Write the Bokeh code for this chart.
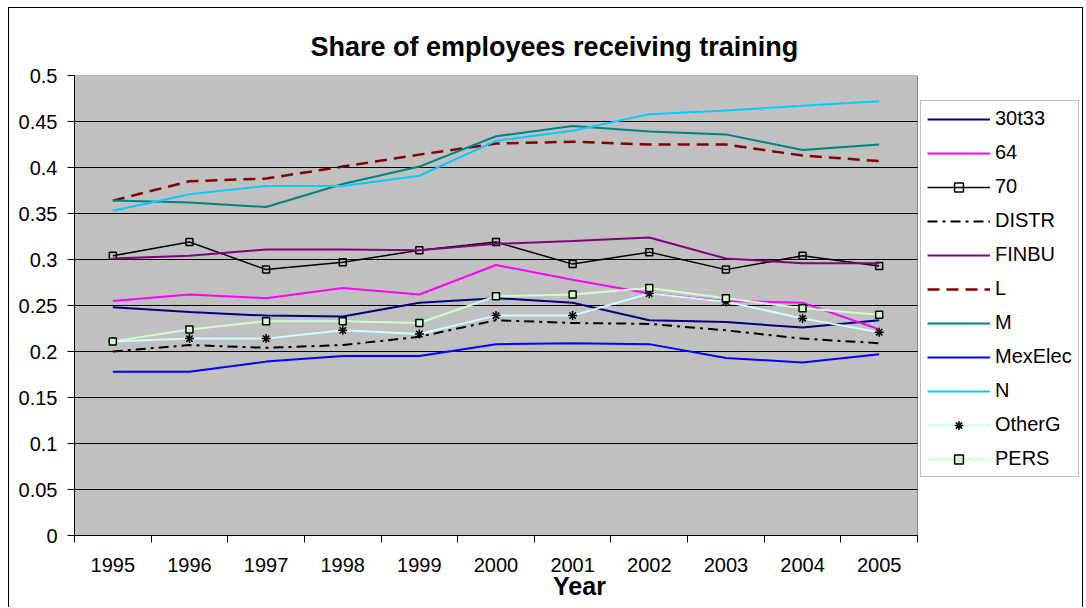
from bokeh.plotting import figure
from bokeh.models import Range1d, FixedTicker, Legend, LegendItem
from bokeh.embed import file_html
from bokeh.resources import INLINE

# ---------------- data ----------------
years = [1995, 1996, 1997, 1998, 1999, 2000, 2001, 2002, 2003, 2004, 2005]
s_30t33 = [0.248, 0.243, 0.239, 0.238, 0.253, 0.258, 0.253, 0.234, 0.232, 0.226, 0.234]
s_64 = [0.255, 0.262, 0.258, 0.269, 0.262, 0.294, 0.278, 0.263, 0.255, 0.253, 0.224]
s_70 = [0.304, 0.319, 0.289, 0.297, 0.310, 0.319, 0.295, 0.308, 0.289, 0.304, 0.293]
s_distr = [0.200, 0.207, 0.204, 0.207, 0.216, 0.234, 0.231, 0.230, 0.223, 0.214, 0.209]
s_finbu = [0.301, 0.304, 0.311, 0.311, 0.310, 0.317, 0.320, 0.324, 0.301, 0.296, 0.296]
s_L = [0.364, 0.385, 0.388, 0.401, 0.414, 0.426, 0.428, 0.425, 0.425, 0.413, 0.407]
s_M = [0.364, 0.362, 0.357, 0.382, 0.401, 0.434, 0.445, 0.439, 0.436, 0.419, 0.425]
s_mexelec = [0.178, 0.178, 0.189, 0.195, 0.195, 0.208, 0.209, 0.208, 0.193, 0.188, 0.197]
s_N = [0.353, 0.371, 0.380, 0.380, 0.391, 0.429, 0.440, 0.458, 0.462, 0.467, 0.472]
s_otherg = [0.211, 0.214, 0.214, 0.223, 0.219, 0.239, 0.239, 0.263, 0.254, 0.236, 0.221]
s_pers = [0.211, 0.224, 0.233, 0.233, 0.231, 0.260, 0.262, 0.269, 0.258, 0.247, 0.240]

y_ticks = [0.0, 0.05, 0.1, 0.15, 0.2, 0.25, 0.3, 0.35, 0.4, 0.45, 0.5]
y_tick_labels = ["0", "0.05", "0.1", "0.15", "0.2", "0.25", "0.3", "0.35", "0.4", "0.45", "0.5"]

title_text = "Share of employees receiving training"
x_title = "Year"

# ---------------- layout (page pixels) ----------------
OX, OY = 9, 8            # canvas origin inside the outer chart border
CW, CH = 1075, 600       # canvas size
FL, FR, FT, FB = 74, 917, 75, 535   # grey plot area in page pixels
FRAME_R = OX + CW        # drawing frame extends to the right edge (room for legend)
X0, X1 = years[0] - 0.5, years[-1] + 0.5
XMAX = X1 + (FRAME_R - FR) * (X1 - X0) / (FR - FL)
Y0, Y1 = y_ticks[0], y_ticks[-1]
FONT = "Liberation Sans"

p = figure(width=CW, height=CH, output_backend="svg", toolbar_location=None,
           x_range=Range1d(X0, XMAX), y_range=Range1d(Y0, Y1),
           min_border_left=FL - OX, min_border_right=0,
           min_border_top=FT - OY, min_border_bottom=OY + CH - FB)
p.margin = (7, 0, 0, 8)
p.styles = {"border-left": "1px solid black", "border-top": "1px solid black",
            "border-right": "1px solid black"}

p.title.text = title_text
p.title.align = "left"
p.title.offset = 310 - FL
p.title.text_font = FONT
p.title.text_font_size = "27px"
p.title.text_font_style = "bold"
p.title.text_color = "black"
p.title.standoff = 28

p.background_fill_color = "white"
p.border_fill_color = "white"
p.outline_line_color = None

# grey plot area with its grey border (top / right)
p.quad(left=[X0], right=[X1], bottom=[Y0], top=[Y1],
       fill_color="#C0C0C0", line_color="#808080", line_width=1)

# horizontal gridlines at the y ticks, only across the plot area
grid_y = y_ticks[1:-1]
p.segment(x0=[X0] * len(grid_y), x1=[X1] * len(grid_y), y0=grid_y, y1=grid_y,
          line_color="black", line_width=1)

# y axis
p.yaxis.ticker = FixedTicker(ticks=y_ticks)
p.yaxis.major_label_overrides = dict(zip(y_ticks, y_tick_labels))
p.yaxis.major_tick_out = 7
p.yaxis.major_tick_in = 0
p.yaxis.minor_tick_line_color = None
p.yaxis.major_label_standoff = 10
p.yaxis.major_label_text_font = FONT
p.yaxis.major_label_text_font_size = "20px"
p.yaxis.major_label_text_color = "black"
p.yaxis.axis_line_color = "black"
p.yaxis.major_tick_line_color = "black"

# x axis: labels at category centres, ticks at category boundaries
bounds = [y - 0.5 for y in years] + [years[-1] + 0.5]
p.xaxis.ticker = FixedTicker(ticks=years, minor_ticks=bounds)
p.xaxis.bounds = (X0, X1)
p.xaxis.major_label_overrides = {y: str(y) for y in years}
p.xaxis.major_tick_out = 0
p.xaxis.major_tick_in = 0
p.xaxis.minor_tick_out = 7
p.xaxis.minor_tick_in = 0
p.xaxis.minor_tick_line_color = "black"
p.xaxis.major_label_standoff = 15
p.xaxis.major_label_text_font = FONT
p.xaxis.major_label_text_font_size = "20px"
p.xaxis.major_label_text_color = "black"
p.xaxis.axis_line_color = "black"
p.xaxis.axis_label = x_title
p.xaxis.axis_label_text_font = FONT
p.xaxis.axis_label_text_font_size = "25px"
p.xaxis.axis_label_text_font_style = "bold"
p.xaxis.axis_label_text_color = "black"
p.xaxis.axis_label_standoff = -3

p.xgrid.visible = False
p.ygrid.visible = False

# ---------------- series ----------------
items = []


def add_line(name, ys, color, width=2, dash="solid", marker=None, mfill=None, msize=7):
    r = p.line(years, ys, line_color=color, line_width=width, line_dash=dash)
    rs = [r]
    if marker is not None:
        m = p.scatter(years, ys, marker=marker, size=msize, line_color="black",
                      line_width=1.5, fill_color=mfill,
                      fill_alpha=0 if mfill is None else 1)
        rs.append(m)
    items.append(LegendItem(label=name, renderers=rs))


add_line("30t33", s_30t33, "#000080")
add_line("64", s_64, "#FF00FF")
add_line("70", s_70, "black", width=1.5, marker="square", mfill=None)
add_line("DISTR", s_distr, "black", width=2, dash="10 5 3 5")
add_line("FINBU", s_finbu, "#800080")
add_line("L", s_L, "#800000", width=2.5, dash="12 7")
add_line("M", s_M, "#008080")
add_line("MexElec", s_mexelec, "#0000FF")
add_line("N", s_N, "#00CCFF")
add_line("OtherG", s_otherg, "#CCFFFF", marker="asterisk", msize=9)
add_line("PERS", s_pers, "#CCFFCC", marker="square", mfill="#CCFFCC")

LEG_L, LEG_T, LEG_H = 920, 102, 375
legend = Legend(items=items, location=(LEG_L - FL, FB - LEG_T - LEG_H),
                border_line_color="#808080", border_line_width=1.5,
                background_fill_color="white", background_fill_alpha=1,
                label_text_font=FONT, label_text_font_size="20px",
                label_text_color="black",
                glyph_width=63, glyph_height=22, label_height=22,
                label_standoff=5, spacing=11, padding=6, margin=0)
p.add_layout(legend)

open("out.html", "w").write(file_html(p, INLINE))
